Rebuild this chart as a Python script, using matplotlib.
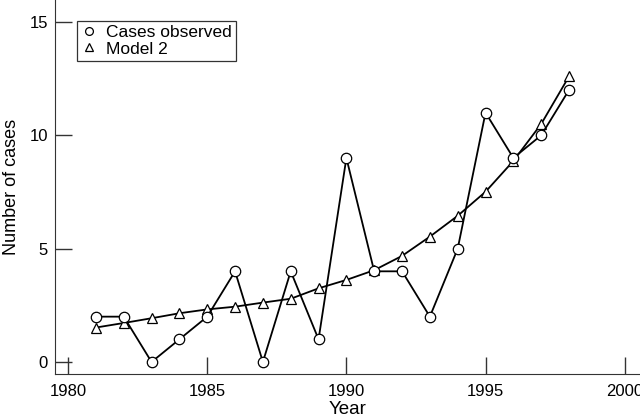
import matplotlib.pyplot as plt

plt.rcParams['font.family'] = ['Liberation Sans', 'DejaVu Sans']

years = list(range(1981, 1999))
observed = [2, 2, 0, 1, 2, 4, 0, 4, 1, 9, 4, 4, 2, 5, 11, 9, 10, 12]
model2 = [1.52, 1.72, 1.93, 2.15, 2.32, 2.44, 2.62, 2.79, 3.25, 3.62,
          4.05, 4.68, 5.53, 6.45, 7.51, 8.87, 10.5, 12.6]

fig = plt.figure(figsize=(6.4, 4.17), dpi=100)
ax = fig.add_axes([55/640, 1 - 374/417, 585/640, 374/417])

ax.plot(years, observed, color='black', lw=1.3, marker='o', ms=7.5,
        mfc='white', mec='black', mew=0.9, label='Cases observed', zorder=3)
ax.plot(years, model2, color='black', lw=1.3, marker='^', ms=7.5,
        mfc='white', mec='black', mew=0.9, label='Model 2', zorder=2)

ax.set_xlim(1979.53, 2000.55)
ax.set_ylim(-0.53, 15.97)
ax.set_xticks([1980, 1985, 1990, 1995, 2000])
ax.set_yticks([0, 5, 10, 15])
for s in ['left', 'bottom']:
    ax.spines[s].set_color('#333333')
ax.spines['top'].set_visible(False)
ax.spines['right'].set_visible(False)
ax.tick_params(direction='in', length=12, width=1, labelsize=12,
               color='#333333')
ax.tick_params(axis='x', pad=7)
ax.tick_params(axis='y', pad=5)
ax.set_xlabel('Year', fontsize=13.5, labelpad=2)
ax.set_ylabel('Number of cases', fontsize=13, labelpad=7)

leg = ax.legend(loc='upper left', bbox_to_anchor=(22/585, 1 - 21/374),
                fontsize=12.5, frameon=True, fancybox=False, borderpad=0.25,
                handlelength=0.9, handletextpad=0.5, labelspacing=0.05,
                borderaxespad=0, markerscale=0.75)
leg.get_frame().set_edgecolor('black')
leg.get_frame().set_linewidth(0.9)
for h in leg.legend_handles:
    h.set_linestyle('none')

fig.savefig('out.png', dpi=100)
